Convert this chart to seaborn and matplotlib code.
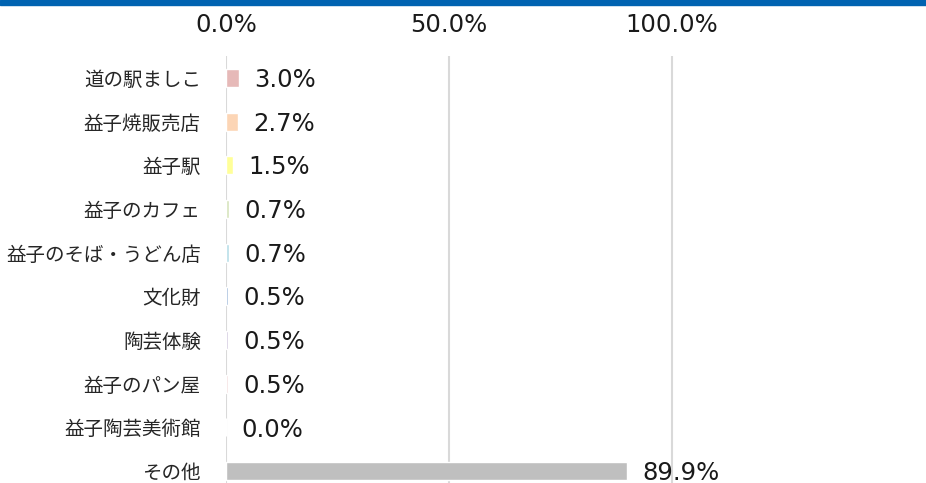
import matplotlib
matplotlib.use("Agg")
import matplotlib.pyplot as plt
import seaborn as sns
import pandas as pd
from matplotlib.patches import Rectangle

# =========================
# DATA
# =========================
places = [
    "道の駅ましこ",
    "益子焼販売店",
    "益子駅",
    "益子のカフェ",
    "益子のそば・うどん店",
    "文化財",
    "陶芸体験",
    "益子のパン屋",
    "益子陶芸美術館",
    "その他",
]
shares = [3.0, 2.7, 1.5, 0.7, 0.7, 0.5, 0.5, 0.5, 0.0, 89.9]
bar_colors = [
    "#E6B9B8", "#FCD5B5", "#FFFF99", "#D7E4BD", "#B7DEE8",
    "#95B3D7", "#CCC1DA", "#F2DCDB", "#FFFFFF", "#BFBFBF",
]
x_ticks = [0, 50, 100]
x_tick_labels = ["0.0%", "50.0%", "100.0%"]

df = pd.DataFrame({"place": places, "share": shares})

# =========================
# PLOT
# =========================
sns.set_style("white")
plt.rcParams["font.family"] = ["Noto Sans CJK JP", "DejaVu Sans"]

fig = plt.figure(figsize=(9.26, 4.83), dpi=100)
ax = fig.add_axes([226 / 926, -10 / 483, 669 / 926, 437 / 483])

sns.barplot(
    data=df, x="share", y="place", hue="place",
    palette=bar_colors, legend=False, width=0.41,
    orient="h", ax=ax, saturation=1,
)

# value labels, nudged slightly below bar centre like the original
for cont in ax.containers:
    texts = ax.bar_label(
        cont, labels=[f"{v:.1f}%" for v in cont.datavalues],
        padding=11, fontsize=17.5, family="DejaVu Sans", color="#1a1a1a",
    )
    for t in texts:
        t.xyann = (11, -1.5)

ax.set_xlim(0, 150)
ax.set_xticks(x_ticks)
ax.set_xticklabels(x_tick_labels, family="DejaVu Sans", fontsize=17.5, color="#1a1a1a")
ax.xaxis.tick_top()
ax.tick_params(axis="x", length=0, pad=14)
ax.tick_params(axis="y", length=0, pad=18, labelsize=14)
ax.grid(axis="x", color="#D9D9D9", linewidth=1.5)
ax.set_axisbelow(True)
for s in ax.spines.values():
    s.set_visible(False)
ax.set_xlabel("")
ax.set_ylabel("")

# blue band at the top
fig.patches.append(Rectangle((0, 1 - 5 / 483), 1, 5 / 483, transform=fig.transFigure,
                             color="#0063B1", zorder=10))

fig.savefig("out.png", dpi=100)
